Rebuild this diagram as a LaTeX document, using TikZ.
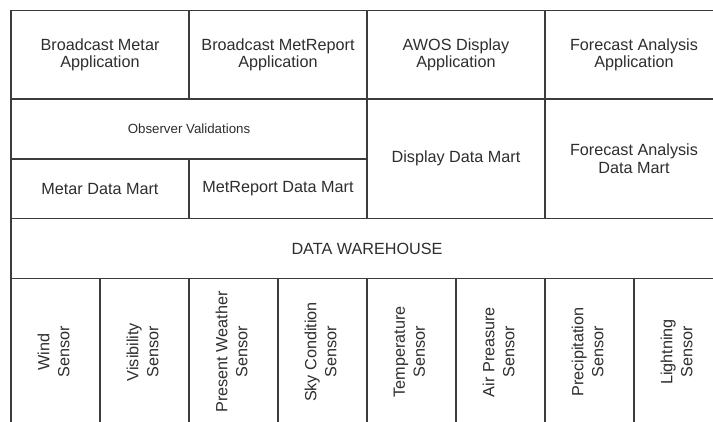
\documentclass[tikz,border=0pt]{standalone}
\usepackage{fontspec}
\setmainfont{Liberation Sans}
\definecolor{linegray}{HTML}{3C3C3C}
\definecolor{textgray}{HTML}{2E2E2E}
\tikzset{
  cell/.style={draw=linegray, line width=1.5pt, inner sep=0pt, rectangle},
  bigtext/.style={text=textgray, align=center, inner sep=0pt,
    font=\fontsize{16.2}{17.8}\selectfont},
  smalltext/.style={text=textgray, align=center, inner sep=0pt,
    font=\fontsize{13.3}{15}\selectfont},
  senstext/.style={text=textgray, align=center, inner sep=0pt, rotate=90,
    font=\fontsize{16.2}{20}\selectfont}
}
\begin{document}
\begin{tikzpicture}[x=1pt,y=-1pt]
\useasboundingbox (0,0) rectangle (713,421);
\fill[white] (0,0) rectangle (713,421);
\clip (0,0) rectangle (713,421);
% application row
\node[cell, minimum width=178pt, minimum height=88.5pt] (bma) at (100,54.75) {};
\node[cell, minimum width=178pt, minimum height=88.5pt] (bmr) at (278,54.75) {};
\node[cell, minimum width=178pt, minimum height=88.5pt] (awos) at (456,54.75) {};
\node[cell, minimum width=178pt, minimum height=88.5pt] (faa) at (634,54.75) {};
\node[bigtext] (tbma) at (bma) {Broadcast Metar\\Application};
\node[bigtext] (tbmr) at (bmr) {Broadcast MetReport\\Application};
\node[bigtext] (tawos) at (awos) {AWOS Display\\Application};
\node[bigtext] (tfaa) at (faa) {Forecast Analysis\\Application};
% validations and marts
\node[cell, minimum width=356pt, minimum height=60pt] (obs) at (189,129) {};
\node[smalltext] (tobs) at (obs) {Observer Validations};
\node[cell, minimum width=178pt, minimum height=59.5pt] (mdm) at (100,188.75) {};
\node[cell, minimum width=178pt, minimum height=59.5pt] (mrdm) at (278,188.75) {};
\node[bigtext] (tmdm) at (mdm) {Metar Data Mart};
\node[bigtext] (tmrdm) at (mrdm) {MetReport Data Mart};
\node[cell, minimum width=178pt, minimum height=119.5pt] (ddm) at (456,158.75) {};
\node[cell, minimum width=178pt, minimum height=119.5pt] (fadm) at (634,158.75) {};
\node[bigtext] (tddm) at (ddm) {Display Data Mart};
\node[bigtext] (tfadm) at (fadm) {Forecast Analysis\\Data Mart};
% data warehouse
\node[cell, minimum width=712pt, minimum height=60pt] (dw) at (367,248.5) {};
\node[bigtext] (tdw) at (dw) {DATA WAREHOUSE};
% sensors
\node[cell, minimum width=89pt, minimum height=147.5pt] (s1) at (55.5,352.25) {};
\node[cell, minimum width=89pt, minimum height=147.5pt] (s2) at (144.5,352.25) {};
\node[cell, minimum width=89pt, minimum height=147.5pt] (s3) at (233.5,352.25) {};
\node[cell, minimum width=89pt, minimum height=147.5pt] (s4) at (322.5,352.25) {};
\node[cell, minimum width=89pt, minimum height=147.5pt] (s5) at (411.5,352.25) {};
\node[cell, minimum width=89pt, minimum height=147.5pt] (s6) at (500.5,352.25) {};
\node[cell, minimum width=89pt, minimum height=147.5pt] (s7) at (589.5,352.25) {};
\node[cell, minimum width=89pt, minimum height=147.5pt] (s8) at (678.5,352.25) {};
\node[senstext] (ts1) at (53.5,352) {Wind\\Sensor};
\node[senstext] (ts2) at (142.5,352) {Visibility\\Sensor};
\node[senstext] (ts3) at (231.5,352) {Present Weather\\Sensor};
\node[senstext] (ts4) at (320.5,352) {Sky Condition\\Sensor};
\node[senstext] (ts5) at (409.5,352) {Temperature\\Sensor};
\node[senstext] (ts6) at (498.5,352) {Air Preasure\\Sensor};
\node[senstext] (ts7) at (587.5,352) {Precipitation\\Sensor};
\node[senstext] (ts8) at (676.5,352) {Lightning\\Sensor};
\end{tikzpicture}
\end{document}
